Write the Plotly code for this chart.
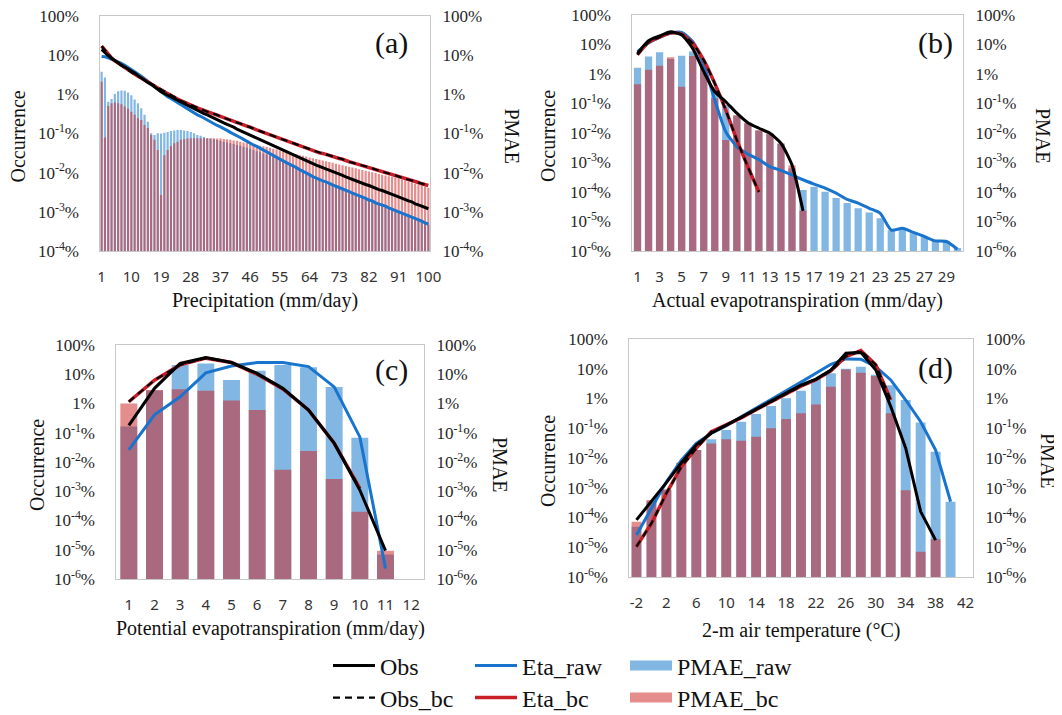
import plotly.graph_objects as go

# the page is 1062x715; the browser's default 8px body margin offsets the figure
PAGE_W, PAGE_H, BODY = 1062, 715, 8
W, H = PAGE_W - BODY, PAGE_H - BODY

# ---------------- data (occurrence and PMAE in %) ----------------
# (a) Precipitation (mm/day)
precip_x = list(range(1, 101))
precip_ticks = [1, 10, 19, 28, 37, 46, 55, 64, 73, 82, 91, 100]
obs_a = [14, 11.5, 9.8, 8.3, 7.2, 6.3, 5.6, 5.0, 4.5, 4.0,
         3.5, 3.0, 2.6, 2.3, 2.0, 1.8, 1.55, 1.35, 1.17, 1.05,
         0.95, 0.85, 0.78, 0.69, 0.63, 0.58, 0.52, 0.47, 0.43, 0.39,
         0.35, 0.32, 0.30, 0.27, 0.245, 0.22, 0.20, 0.186, 0.17, 0.16,
         0.145, 0.13, 0.12, 0.11, 0.10, 0.091, 0.083, 0.076, 0.069, 0.063,
         0.058, 0.052, 0.048, 0.044, 0.040, 0.036, 0.034, 0.031, 0.028, 0.026,
         0.024, 0.022, 0.020, 0.0186, 0.017, 0.0155, 0.0145, 0.0135, 0.0123, 0.0115,
         0.0107, 0.0098, 0.0091, 0.0085, 0.0078, 0.0072, 0.0068, 0.0063, 0.0058, 0.0054,
         0.0050, 0.0047, 0.0043, 0.0040, 0.0037, 0.0035, 0.0032, 0.0030, 0.0028, 0.0026,
         0.0024, 0.0022, 0.0020, 0.0019, 0.0018, 0.0016, 0.0015, 0.0014, 0.0013, 0.0012]
eta_raw_a = [9.3, 9.1, 8.5, 7.9, 7.4, 6.8, 6.2, 5.5, 4.9, 4.3,
             3.8, 3.3, 2.9, 2.5, 2.15, 1.85, 1.6, 1.35, 1.15, 1.0,
             0.87, 0.78, 0.69, 0.62, 0.54, 0.48, 0.43, 0.38, 0.34, 0.30,
             0.275, 0.245, 0.22, 0.20, 0.18, 0.16, 0.148, 0.13, 0.12, 0.107,
             0.098, 0.087, 0.079, 0.071, 0.063, 0.058, 0.051, 0.047, 0.042, 0.038,
             0.034, 0.031, 0.028, 0.025, 0.022, 0.020, 0.018, 0.0166, 0.0148, 0.0135,
             0.012, 0.011, 0.0098, 0.0089, 0.0079, 0.0072, 0.0068, 0.0062, 0.0058, 0.0052,
             0.0049, 0.0045, 0.0042, 0.0038, 0.0035, 0.0033, 0.0030, 0.0028, 0.0026, 0.0024,
             0.0022, 0.0020, 0.0019, 0.0017, 0.0016, 0.0015, 0.0014, 0.00126, 0.00117, 0.00107,
             0.0010, 0.00093, 0.00085, 0.00079, 0.00072, 0.00068, 0.00062, 0.00058, 0.00052, 0.00049]
eta_bc_a = [17, 13.2, 10.5, 8.5, 7.1, 6.2, 5.4, 4.7, 4.2, 3.6,
            3.2, 2.9, 2.6, 2.3, 2.0, 1.8, 1.6, 1.45, 1.3, 1.15,
            1.05, 0.93, 0.85, 0.76, 0.69, 0.63, 0.58, 0.52, 0.48, 0.45,
            0.42, 0.39, 0.36, 0.34, 0.32, 0.30, 0.27, 0.25, 0.23, 0.22,
            0.20, 0.19, 0.18, 0.166, 0.155, 0.145, 0.13, 0.123, 0.115, 0.107,
            0.10, 0.093, 0.087, 0.081, 0.076, 0.071, 0.065, 0.060, 0.056, 0.052,
            0.049, 0.046, 0.043, 0.040, 0.037, 0.035, 0.032, 0.031, 0.029, 0.0275,
            0.026, 0.0245, 0.023, 0.022, 0.020, 0.019, 0.018, 0.017, 0.016, 0.015,
            0.0145, 0.0135, 0.013, 0.012, 0.0112, 0.0107, 0.010, 0.0095, 0.0089, 0.0085,
            0.0079, 0.0076, 0.0071, 0.0066, 0.0063, 0.0059, 0.0056, 0.0052, 0.0050, 0.0047]
obs_bc_a = list(eta_bc_a)  # the two curves coincide in the figure
pmae_raw_a = [3.8, 2.7, 0.65, 0.76, 1.02, 1.2, 1.26, 1.23, 1.12, 0.95,
              0.74, 0.59, 0.44, 0.30, 0.20, 0.102, 0.091, 0.102, 0.10, 0.105,
              0.11, 0.115, 0.12, 0.123, 0.123, 0.12, 0.115, 0.11, 0.102, 0.091,
              0.087, 0.081, 0.076, 0.074, 0.071, 0.068, 0.065, 0.062, 0.059, 0.056,
              0.054, 0.051, 0.049, 0.046, 0.044, 0.041, 0.038, 0.035, 0.033, 0.031,
              0.029, 0.0275, 0.025, 0.023, 0.021, 0.019, 0.0174, 0.016, 0.014, 0.013,
              0.0115, 0.0105, 0.0093, 0.0085, 0.0076, 0.0069, 0.0065, 0.0059, 0.0055, 0.0050,
              0.0047, 0.0043, 0.0040, 0.0036, 0.0034, 0.0032, 0.0029, 0.0027, 0.0025, 0.0023,
              0.0021, 0.0019, 0.0018, 0.00166, 0.00155, 0.0014, 0.0013, 0.0012, 0.00112, 0.00102,
              0.00095, 0.00089, 0.00081, 0.00076, 0.00069, 0.00065, 0.00059, 0.00055, 0.0005, 0.00047]
pmae_bc_a = [2.1, 0.079, 0.50, 0.59, 0.62, 0.59, 0.56, 0.49, 0.43, 0.36,
             0.30, 0.245, 0.22, 0.166, 0.138, 0.091, 0.069, 0.038, 0.0027, 0.028,
             0.038, 0.048, 0.056, 0.062, 0.069, 0.071, 0.074, 0.076, 0.076, 0.076,
             0.076, 0.076, 0.076, 0.076, 0.076, 0.074, 0.074, 0.072, 0.071, 0.069,
             0.066, 0.065, 0.062, 0.059, 0.058, 0.055, 0.052, 0.051, 0.049, 0.047,
             0.045, 0.043, 0.041, 0.039, 0.037, 0.035, 0.034, 0.032, 0.031, 0.0295,
             0.028, 0.027, 0.026, 0.0245, 0.0234, 0.0224, 0.0214, 0.0204, 0.0195, 0.0186,
             0.0178, 0.017, 0.0162, 0.0155, 0.0148, 0.0141, 0.0135, 0.0129, 0.0123, 0.0117,
             0.0112, 0.0107, 0.0102, 0.0098, 0.0093, 0.0089, 0.0085, 0.0081, 0.0078, 0.0074,
             0.0071, 0.0066, 0.0063, 0.0059, 0.0056, 0.0052, 0.0050, 0.0047, 0.0044, 0.0041]

# (b) Actual evapotranspiration (mm/day)
aet_x = list(range(1, 31))
aet_ticks = list(range(1, 30, 2))
obs_b = [5.0, 13.5, 19.5, 26.9, 20.9, 7.4, 1.2, 0.25, 0.115, 0.047,
         0.0224, 0.0145, 0.0098, 0.0045, 8.3e-4, 2.3e-5]
eta_bc_b = [4.5, 12.0, 17.8, 25.1, 22.4, 11.0, 2.95, 0.48, 0.060, 0.0058, 7.2e-4, 1.0e-4]
obs_bc_b = list(eta_bc_b)
eta_raw_b = [5.75, 11.2, 17.4, 24.0, 25.7, 12.6, 2.04, 0.132, 0.011, 0.00347,
             0.00195, 0.00126, 7.2e-4, 5.4e-4, 3.8e-4, 2.6e-4, 1.86e-4, 1.35e-4, 9.1e-5, 5.6e-5,
             4.2e-5, 2.8e-5, 1.9e-5, 5.1e-6, 5.9e-6, 4.3e-6, 3.1e-6, 2.2e-6, 2.1e-6, 1.15e-6]
pmae_raw_b = [1.62, 3.9, 5.5, 3.24, 4.17, 5.75, 1.9, 0.355, 0.089, 0.038,
              0.021, 0.0117, 0.0091, 0.0042, 6.3e-4, 1.17e-4, 1.5e-4, 1.02e-4, 6.2e-5, 4.2e-5,
              2.8e-5, 2.0e-5, 1.3e-5, 5.1e-6, 5.9e-6, 4.0e-6, 2.9e-6, 2.2e-6, 2.1e-6, 1.26e-6]
pmae_bc_b = [0.45, 1.38, 1.9, 3.7, 0.37, 4.1, 1.78, 0.151, 0.0058, 0.041,
             0.0224, 0.0126, 0.0098, 0.0045, 7.9e-4, 2.3e-5]

# (c) Potential evapotranspiration (mm/day)
pet_x = list(range(1, 13))
pet_ticks = list(range(1, 13))
obs_c = [0.18, 3.3, 23.4, 37.2, 25.1, 10.7, 3.3, 0.60, 0.044, 0.0011, 9.3e-6]
eta_bc_c = [1.15, 6.3, 20.9, 35.5, 25.1, 10.0, 3.16, 0.60, 0.044, 0.00126]
obs_bc_c = list(eta_bc_c)
eta_raw_c = [0.026, 0.41, 1.7, 11.2, 19.1, 25.1, 25.1, 18.2, 3.7, 0.072, 2.3e-6]
pmae_raw_c = [0.162, 2.8, 20.9, 23.4, 6.3, 13.2, 20.9, 17.4, 3.7, 0.068, 6.9e-6]
pmae_bc_c = [1.0, 2.9, 3.1, 2.75, 1.26, 0.60, 0.0054, 0.024, 0.0026, 2.0e-4, 9.3e-6]

# (d) 2-m air temperature (°C)
temp_x = list(range(-2, 43, 2))
temp_ticks = list(range(-2, 43, 4))
temp_tick_text = ["-2", "2", "6", "10", "14", "18", "22", "26", "30", "34", "38", "42"]
obs_d = [8.3e-5, 3.4e-4, 1.48e-3, 6.9e-3, 0.0275, 0.068, 0.126, 0.234, 0.44, 0.81,
         1.51, 2.8, 4.5, 9.1, 33, 35.5, 9.1, 0.54, 0.0214, 1.58e-4, 1.74e-5]
eta_bc_d = [1.05e-5, 6.3e-5, 6.5e-4, 5.1e-3, 0.0214, 0.076, 0.129, 0.224, 0.42, 0.78,
            1.41, 2.6, 4.3, 8.5, 25.7, 40.7, 13.5, 0.89]
obs_bc_d = list(eta_bc_d)
eta_raw_d = [2.6e-5, 2.0e-4, 1.58e-3, 8.5e-3, 0.031, 0.068, 0.12, 0.245, 0.47, 0.89,
             1.82, 3.55, 7.1, 14.1, 21.4, 20.9, 11.7, 4.2, 0.89, 0.166, 0.0186, 3.4e-4]
pmae_raw_d = [4.9e-5, 3.5e-4, 8.3e-4, 6.9e-3, 0.0186, 0.043, 0.087, 0.166, 0.30, 0.56,
              1.02, 1.82, 4.5, 7.1, 10.0, 11.7, 6.3, 2.8, 0.89, 0.155, 0.0162, 3.4e-4]
pmae_bc_d = [7.2e-5, 3.9e-4, 8.9e-4, 6.9e-3, 0.0186, 0.031, 0.043, 0.038, 0.052, 0.10,
             0.204, 0.32, 0.63, 2.5, 9.5, 7.4, 5.75, 0.32, 8.3e-4, 7.1e-6, 1.86e-5]

# y tick labels
pct_vals = [100, 10, 1, 0.1, 0.01, 0.001, 0.0001, 0.00001, 0.000001]
pct_text = ["100%", "10%", "1%", "10<sup>-1</sup>%", "10<sup>-2</sup>%", "10<sup>-3</sup>%",
            "10<sup>-4</sup>%", "10<sup>-5</sup>%", "10<sup>-6</sup>%"]

# ---------------- styling ----------------
SERIF = "'Liberation Serif', 'Times New Roman', 'DejaVu Serif', serif"
SANS = "'Noto Sans', 'Open Sans', sans-serif"
BLUE_BAR = "#82b7e4"
PINK_BAR = "rgba(205,34,34,0.52)"
BLACK = "#000000"
BLUE = "#1874cd"
RED = "#c81e28"
FRAME = "#c8c8c8"


def fx(px):
    """page pixel x -> paper fraction"""
    return (px - BODY) / W


def fy(py):
    """page pixel y -> paper fraction"""
    return 1 - (py - BODY) / H


panels = [
    dict(x=precip_x, ticks=precip_ticks, ticktext=[str(v) for v in precip_ticks], xr=[0.5, 100.5],
         ybot=-4, box=(100, 430, 16, 251),
         obs=obs_a, obs_bc=obs_bc_a, eta_raw=eta_raw_a, eta_bc=eta_bc_a, pr=pmae_raw_a, pb=pmae_bc_a,
         shape="linear", label="(a)", lab_xy=(391, 43), xtitle="Precipitation (mm/day)", xt_y=300,
         occ_x=17, pm_x=512),
    dict(x=aet_x, ticks=aet_ticks, ticktext=[str(v) for v in aet_ticks], xr=[0.5, 30.5],
         ybot=-6, box=(632, 963, 15, 251),
         obs=obs_b, obs_bc=obs_bc_b, eta_raw=eta_raw_b, eta_bc=eta_bc_b, pr=pmae_raw_b, pb=pmae_bc_b,
         shape="spline", label="(b)", lab_xy=(935, 43), xtitle="Actual evapotranspiration (mm/day)",
         xt_y=300, occ_x=548, pm_x=1043),
    dict(x=pet_x, ticks=pet_ticks, ticktext=[str(v) for v in pet_ticks], xr=[0.5, 12.5],
         ybot=-6, box=(116, 424, 345, 579),
         obs=obs_c, obs_bc=obs_bc_c, eta_raw=eta_raw_c, eta_bc=eta_bc_c, pr=pmae_raw_c, pb=pmae_bc_c,
         shape="linear", label="(c)", lab_xy=(391, 370), xtitle="Potential evapotranspiration (mm/day)",
         xt_y=628, occ_x=37, pm_x=500),
    dict(x=temp_x, ticks=temp_ticks, ticktext=temp_tick_text, xr=[-3, 43],
         ybot=-6, box=(629, 973, 339, 577),
         obs=obs_d, obs_bc=obs_bc_d, eta_raw=eta_raw_d, eta_bc=eta_bc_d, pr=pmae_raw_d, pb=pmae_bc_d,
         shape="linear", label="(d)", lab_xy=(935, 368), xtitle="2-m air temperature (°C)",
         xt_y=630, occ_x=548, pm_x=1048),
]

fig = go.Figure()
layout = {}
annotations = []

for i, p in enumerate(panels):
    n = i + 1
    xname = "xaxis" if n == 1 else f"xaxis{n}"
    xref = "x" if n == 1 else f"x{n}"
    yb = 2 * n - 1
    yl = 2 * n
    ybname = "yaxis" if yb == 1 else f"yaxis{yb}"
    ybref = "y" if yb == 1 else f"y{yb}"
    ylname = f"yaxis{yl}"
    ylref = f"y{yl}"
    x0, x1, y0, y1 = p["box"]
    first = (n == 1)
    xs = p["x"]

    # bars (PMAE) on the primary axis (drawn below the lines)
    fig.add_trace(go.Bar(x=xs[:len(p["pr"])], y=p["pr"], xaxis=xref, yaxis=ybref, name="PMAE_raw",
                         marker=dict(color=BLUE_BAR, line=dict(width=0)), showlegend=False))
    fig.add_trace(go.Bar(x=xs[:len(p["pb"])], y=p["pb"], xaxis=xref, yaxis=ybref, name="PMAE_bc",
                         marker=dict(color=PINK_BAR, line=dict(width=0)), showlegend=False))

    # lines (occurrence) on the overlaying axis
    sm = dict(shape=p["shape"], smoothing=0.6) if p["shape"] == "spline" else dict(shape="linear")
    fig.add_trace(go.Scatter(x=xs[:len(p["eta_raw"])], y=p["eta_raw"], mode="lines", name="Eta_raw",
                             line=dict(color=BLUE, width=3, **sm), xaxis=xref, yaxis=ylref,
                             showlegend=first, legend="legend2"))
    fig.add_trace(go.Scatter(x=xs[:len(p["eta_bc"])], y=p["eta_bc"], mode="lines", name="Eta_bc",
                             line=dict(color=RED, width=3.5, **sm), xaxis=xref, yaxis=ylref,
                             showlegend=first, legend="legend5"))
    fig.add_trace(go.Scatter(x=xs[:len(p["obs"])], y=p["obs"], mode="lines", name="Obs",
                             line=dict(color=BLACK, width=3, **sm), xaxis=xref, yaxis=ylref,
                             showlegend=first, legend="legend"))
    fig.add_trace(go.Scatter(x=xs[:len(p["obs_bc"])], y=p["obs_bc"], mode="lines", name="Obs_bc",
                             line=dict(color=BLACK, width=2.2, dash="7px,5px", **sm), xaxis=xref,
                             yaxis=ylref, showlegend=first, legend="legend4"))

    yr = [p["ybot"], 2]
    nt = 2 - p["ybot"] + 1
    tv = pct_vals[:nt]
    tt = pct_text[:nt]

    layout[xname] = dict(domain=[fx(x0), fx(x1)], anchor=ybref, range=p["xr"], type="linear",
                         automargin=False, ticklabeloverflow="allow",
                         tickmode="array", tickvals=p["ticks"], ticktext=p["ticktext"], ticks="",
                         ticklabelstandoff=12,
                         tickfont=dict(family=SANS, size=15, color="#333333"),
                         showgrid=False, zeroline=False, showline=True, mirror=True,
                         linecolor=FRAME, linewidth=1)
    layout[ybname] = dict(domain=[fy(y1), fy(y0)], anchor=xref, type="log", range=yr, side="right",
                          automargin=False, ticklabeloverflow="allow",
                          tickmode="array", tickvals=tv, ticktext=tt, ticks="", ticklabelstandoff=8,
                          tickfont=dict(family=SERIF, size=17, color="#262626"),
                          showgrid=False, zeroline=False, showline=True, mirror=True,
                          linecolor=FRAME, linewidth=1)
    layout[ylname] = dict(overlaying=ybref, anchor=xref, type="log", range=yr, side="left",
                          automargin=False, ticklabeloverflow="allow",
                          tickmode="array", tickvals=tv, ticktext=tt, ticks="", ticklabelstandoff=20,
                          tickfont=dict(family=SERIF, size=17, color="#262626"),
                          showgrid=False, zeroline=False, showline=False)

    yc = (y0 + y1) / 2 + 3
    annotations += [
        dict(x=fx((x0 + x1) / 2), y=fy(p["xt_y"]), xref="paper", yref="paper", text=p["xtitle"],
             showarrow=False, font=dict(family=SERIF, size=20, color="#111111"),
             xanchor="center", yanchor="middle"),
        dict(x=fx(p["occ_x"]), y=fy(yc), xref="paper", yref="paper", text="Occurrence",
             showarrow=False, textangle=-90, font=dict(family=SERIF, size=20, color="#111111"),
             xanchor="center", yanchor="middle"),
        dict(x=fx(p["pm_x"]), y=fy(yc), xref="paper", yref="paper", text="PMAE",
             showarrow=False, textangle=90, font=dict(family=SERIF, size=20, color="#111111"),
             xanchor="center", yanchor="middle"),
        dict(x=fx(p["lab_xy"][0]), y=fy(p["lab_xy"][1]), xref="paper", yref="paper", text=p["label"],
             showarrow=False, font=dict(family=SERIF, size=30, color="#111111"),
             xanchor="center", yanchor="middle"),
    ]

# legend proxies for the bar series
fig.add_trace(go.Scatter(x=[None], y=[None], mode="lines", name="PMAE_raw",
                         line=dict(color=BLUE_BAR, width=10), xaxis="x", yaxis="y2",
                         showlegend=True, legend="legend3"))
fig.add_trace(go.Scatter(x=[None], y=[None], mode="lines", name="PMAE_bc",
                         line=dict(color="#e58c8c", width=10), xaxis="x", yaxis="y2",
                         showlegend=True, legend="legend6"))

leg_font = dict(family=SERIF, size=24, color="#111111")
leg_pos = {"legend": (328, 666), "legend2": (470, 666), "legend3": (625, 666),
           "legend4": (328, 698), "legend5": (470, 698), "legend6": (625, 698)}
for k, (lx, ly) in leg_pos.items():
    layout[k] = dict(x=fx(lx), y=fy(ly), xanchor="left", yanchor="middle", xref="paper", yref="paper",
                     bgcolor="rgba(0,0,0,0)", font=leg_font, itemwidth=42, borderwidth=0)

fig.update_layout(
    width=W, height=H,
    margin=dict(l=0, r=0, t=0, b=0, autoexpand=False),
    paper_bgcolor="white", plot_bgcolor="rgba(0,0,0,0)",
    barmode="overlay", bargap=0.34,
    annotations=annotations,
    **layout,
)

fig.write_html("out.html")
